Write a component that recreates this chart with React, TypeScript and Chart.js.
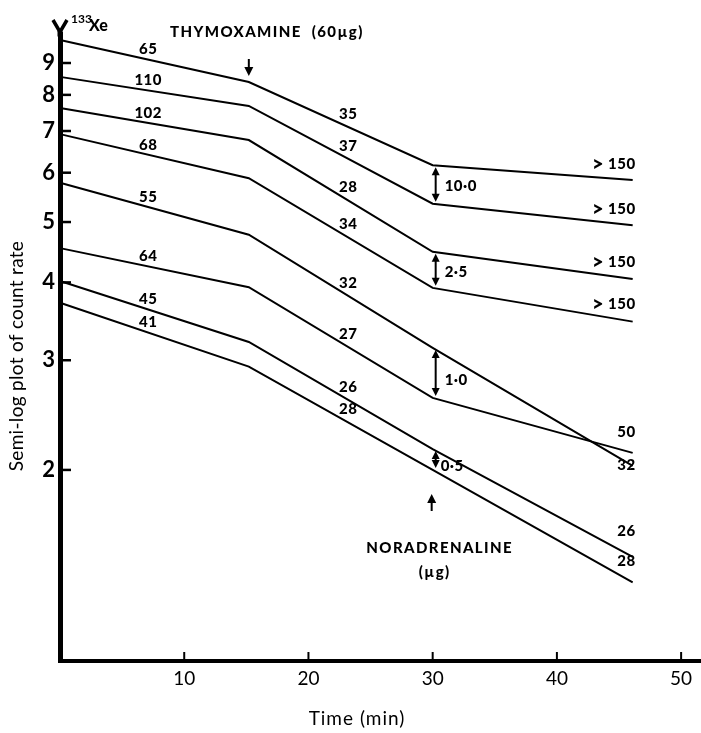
import React, { useEffect, useRef } from "react";
import { Chart, registerables } from "chart.js";

Chart.register(...registerables);

// ---- data ----
const times = [0, 15.2, 30, 46.1];
const curve1 = [9.8, 8.39, 6.17, 5.84];
const curve2 = [8.55, 7.68, 5.35, 4.94];
const curve3 = [7.62, 6.77, 4.48, 4.05];
const curve4 = [6.92, 5.88, 3.92, 3.46];
const curve5 = [5.78, 4.77, 3.14, 2.03];
const curve6 = [4.54, 3.93, 2.61, 2.13];
const curve7 = [4.02, 3.21, 2.16, 1.45];
const curve8 = [3.71, 2.93, 2.0, 1.32];
const curves = [curve1, curve2, curve3, curve4, curve5, curve6, curve7, curve8];

const firstLabels = ["65", "110", "102", "68", "55", "64", "45", "41"];
const secondLabels = ["35", "37", "28", "34", "32", "27", "26", "28"];
const thirdLabels = ["> 150", "> 150", "> 150", "> 150", "32", "50", "26", "28"];

const doseLabels = ["10·0", "2·5", "1·0", "0·5"];
const dosePairs = [[0, 1], [2, 3], [4, 5], [6, 7]];

const yTicks = [2, 3, 4, 5, 6, 7, 8, 9];
const xTicks = [10, 20, 30, 40, 50];

const thymoxamineTime = 15.2;
const noradrenalineTime = 30;

const xTitle = "Time (min)";
const yTitle = "Semi-log plot of count rate";

// ---- layout constants (not data) ----
const FIRST_T = 7.1;
const SECOND_T = 23.2;
const THIRD_OFFSETS = [-14, -14, -14, -14, 11, -15, -15, -10];

const FONT = "Lato, 'Open Sans', 'DejaVu Sans', sans-serif";

function lineY(chart: any, ci: number, t: number): number {
  const xs = chart.scales.x;
  const ys = chart.scales.y;
  const c = curves[ci];
  for (let i = 0; i < times.length - 1; i++) {
    if (t >= times[i] && t <= times[i + 1]) {
      const x0 = xs.getPixelForValue(times[i]);
      const x1 = xs.getPixelForValue(times[i + 1]);
      const y0 = ys.getPixelForValue(c[i]);
      const y1 = ys.getPixelForValue(c[i + 1]);
      const px = xs.getPixelForValue(t);
      return y0 + ((px - x0) / (x1 - x0)) * (y1 - y0);
    }
  }
  return ys.getPixelForValue(c[c.length - 1]);
}

function arrowHead(ctx: CanvasRenderingContext2D, x: number, y: number, dir: number, w = 4, h = 8) {
  ctx.beginPath();
  ctx.moveTo(x, y);
  ctx.lineTo(x - w, y - dir * h);
  ctx.lineTo(x + w, y - dir * h);
  ctx.closePath();
  ctx.fill();
}

function setSpacing(ctx: any, px: number) {
  if ("letterSpacing" in ctx) ctx.letterSpacing = `${px}px`;
}

const LABEL_FONT = `900 15px ${FONT}`;

const annotations = {
  id: "annotations",
  afterDraw(chart: any) {
    const ctx: CanvasRenderingContext2D = chart.ctx;
    const xs = chart.scales.x;
    const ys = chart.scales.y;
    const area = chart.chartArea;
    ctx.save();
    ctx.fillStyle = "#000";
    ctx.strokeStyle = "#000";

    // inner tick marks
    ctx.lineWidth = 2.5;
    yTicks.forEach((v) => {
      const y = ys.getPixelForValue(v);
      ctx.beginPath();
      ctx.moveTo(area.left + 2, y);
      ctx.lineTo(area.left + 11, y);
      ctx.stroke();
    });
    ctx.lineWidth = 2;
    xTicks.forEach((t) => {
      const x = xs.getPixelForValue(t);
      ctx.beginPath();
      ctx.moveTo(x, area.bottom);
      ctx.lineTo(x, area.bottom - 9);
      ctx.stroke();
    });

    // Y fork at top of axis
    ctx.lineWidth = 3.5;
    ctx.beginPath();
    ctx.moveTo(area.left - 7, 20);
    ctx.lineTo(area.left, 32);
    ctx.lineTo(area.left + 7, 20);
    ctx.stroke();
    ctx.lineWidth = 5;
    ctx.beginPath();
    ctx.moveTo(area.left, 31);
    ctx.lineTo(area.left, area.top + 2);
    ctx.stroke();

    // axis titles
    ctx.textBaseline = "middle";
    ctx.textAlign = "center";
    ctx.font = `19px ${FONT}`;
    setSpacing(ctx, 1);
    ctx.fillText(xTitle, 357, 719);
    ctx.save();
    ctx.translate(17, 356);
    ctx.rotate(-Math.PI / 2);
    ctx.font = `19px ${FONT}`;
    setSpacing(ctx, 0.3);
    ctx.fillText(yTitle, 0, 0);
    ctx.restore();

    // 133Xe
    setSpacing(ctx, 0);
    ctx.textAlign = "left";
    ctx.font = `bold 12px ${FONT}`;
    ctx.fillText("133", area.left + 11, 19);
    ctx.font = `900 16px ${FONT}`;
    ctx.fillText("Xe", area.left + 29, 26);

    // segment labels
    ctx.font = LABEL_FONT;
    setSpacing(ctx, 0.5);
    ctx.textAlign = "center";
    curves.forEach((_, ci) => {
      ctx.fillText(firstLabels[ci], xs.getPixelForValue(FIRST_T), lineY(chart, ci, FIRST_T) - 10);
      ctx.fillText(secondLabels[ci], xs.getPixelForValue(SECOND_T), lineY(chart, ci, SECOND_T) - 13);
    });
    ctx.textAlign = "right";
    const endT = times[times.length - 1];
    const endX = xs.getPixelForValue(endT) + 3;
    curves.forEach((_, ci) => {
      const t = endT - 1.6;
      const y = lineY(chart, ci, t) + THIRD_OFFSETS[ci];
      const lab = thirdLabels[ci];
      if (lab.startsWith(">")) {
        const rest = lab.slice(1).trim();
        ctx.font = LABEL_FONT;
        ctx.fillText(rest, endX, y);
        const w = ctx.measureText(rest).width;
        ctx.font = `900 20px ${FONT}`;
        ctx.fillText(">", endX - w - 4, y);
        ctx.font = LABEL_FONT;
      } else {
        ctx.fillText(lab, endX, y);
      }
    });

    // dose arrows
    ctx.textAlign = "left";
    const ax = xs.getPixelForValue(noradrenalineTime) + 3;
    doseLabels.forEach((lab, i) => {
      const [a, b] = dosePairs[i];
      const ya = ys.getPixelForValue(curves[a][2]) + 2;
      const yb = ys.getPixelForValue(curves[b][2]) - 2;
      ctx.lineWidth = 2;
      ctx.beginPath();
      ctx.moveTo(ax, ya + 6);
      ctx.lineTo(ax, yb - 6);
      ctx.stroke();
      arrowHead(ctx, ax, ya, -1);
      arrowHead(ctx, ax, yb, 1);
      const dy = i >= 2 ? 7 : 2;
      ctx.fillText(lab, ax + (i === 3 ? 5 : 9), (ya + yb) / 2 + dy);
    });

    // Thymoxamine arrow
    const tx = xs.getPixelForValue(thymoxamineTime);
    ctx.lineWidth = 2;
    ctx.beginPath();
    ctx.moveTo(tx, 59);
    ctx.lineTo(tx, 70);
    ctx.stroke();
    arrowHead(ctx, tx, 76, 1, 4.5, 9);
    ctx.font = LABEL_FONT;
    setSpacing(ctx, 1.4);
    ctx.textAlign = "left";
    ctx.fillText("THYMOXAMINE  (60µg)", 170, 32);

    // Noradrenaline arrow
    const nx = xs.getPixelForValue(noradrenalineTime) - 1;
    ctx.beginPath();
    ctx.moveTo(nx, 501);
    ctx.lineTo(nx, 511);
    ctx.stroke();
    arrowHead(ctx, nx, 494, -1, 4.5, 9);
    ctx.textAlign = "center";
    ctx.fillText("NORADRENALINE", nx + 8, 548);
    ctx.fillText("(µg)", nx + 3, 572);

    ctx.restore();
  },
};

export default function App() {
  const ref = useRef<HTMLCanvasElement | null>(null);
  useEffect(() => {
    if (!ref.current) return;
    const chart = new Chart(ref.current, {
      type: "line",
      data: {
        datasets: curves.map((c, i) => ({
          label: `curve ${i + 1}`,
          data: c.map((v, j) => ({ x: times[j], y: v })),
          borderColor: "#000",
          borderWidth: 2,
          pointRadius: 0,
          tension: 0,
          fill: false,
          clip: false as any,
        })),
      },
      options: {
        animation: false,
        responsive: false,
        events: [],
        layout: { padding: { top: 34.5, left: 0, right: 0, bottom: 0 } },
        plugins: { legend: { display: false }, tooltip: { enabled: false }, title: { display: false } },
        scales: {
          x: {
            type: "linear",
            min: 0,
            max: 51.6,
            afterBuildTicks: (s: any) => {
              s.ticks = xTicks.map((v) => ({ value: v }));
            },
            afterFit: (s: any) => {
              s.height = 72;
            },
            grid: { display: false, drawTicks: false },
            border: { display: true, width: 4, color: "#000" },
            ticks: {
              color: "#000",
              font: { family: FONT, size: 19 },
              padding: 6,
              maxRotation: 0,
              autoSkip: false,
              callback: (v: any) => String(v),
            },
            title: { display: false },
          },
          y: {
            type: "logarithmic",
            min: 0.987,
            max: 10,
            afterBuildTicks: (s: any) => {
              s.ticks = yTicks.map((v) => ({ value: v }));
            },
            afterFit: (s: any) => {
              s.width = 60;
            },
            grid: { display: false, drawTicks: false },
            border: { display: true, width: 5, color: "#000" },
            ticks: {
              color: "#000",
              font: { family: FONT, size: 22, weight: "bold" },
              padding: 5,
              autoSkip: false,
              callback: (v: any) => String(v),
            },
            title: { display: false },
          },
        },
      },
      plugins: [annotations],
    });
    return () => chart.destroy();
  }, []);
  return (
    <div style={{ position: "fixed", left: 0, top: 0, width: 701, height: 733, background: "#fff" }}>
      <canvas ref={ref} width={701} height={733} style={{ display: "block" }} />
    </div>
  );
}
